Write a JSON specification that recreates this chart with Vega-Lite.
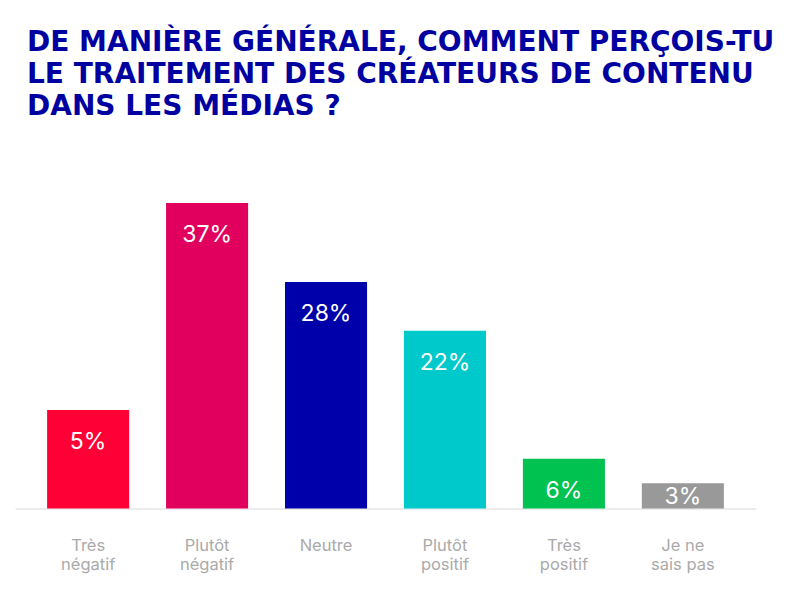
{
  "$schema": "https://vega.github.io/schema/vega-lite/v6.json",
  "width": 741,
  "height": 358,
  "autosize": {"type": "none"},
  "padding": {"left": 15, "top": 150.5, "right": 48, "bottom": 87.5},
  "background": "white",
  "title": {
    "text": ["DE MANIÈRE GÉNÉRALE, COMMENT PERÇOIS-TU", "LE TRAITEMENT DES CRÉATEURS DE CONTENU", "DANS LES MÉDIAS ?"],
    "anchor": "start",
    "dx": 12,
    "offset": 30,
    "font": "DejaVu Sans",
    "fontSize": 28,
    "fontWeight": "bold",
    "color": "#0000a0",
    "lineHeight": 32
  },
  "data": {
    "values": [
      {"reponse": "Très négatif", "pct": 12.1, "label": "5%"},
      {"reponse": "Plutôt négatif", "pct": 37.5, "label": "37%"},
      {"reponse": "Neutre", "pct": 27.8, "label": "28%"},
      {"reponse": "Plutôt positif", "pct": 21.8, "label": "22%"},
      {"reponse": "Très positif", "pct": 6.1, "label": "6%"},
      {"reponse": "Je ne sais pas", "pct": 3.1, "label": "3%"}
    ]
  },
  "encoding": {
    "x": {
      "field": "reponse",
      "type": "nominal",
      "sort": null,
      "scale": {"paddingInner": 0.31, "paddingOuter": 0.27},
      "axis": {
        "title": null,
        "domainColor": "#e6e6e6",
        "domainWidth": 1.5,
        "ticks": false,
        "labelAngle": 0,
        "labelFont": "Inter",
        "labelFontSize": 16.5,
        "labelColor": "#aaaaaa",
        "labelPadding": 29,
        "labelLineHeight": 19,
        "labelExpr": "datum.value == 'Je ne sais pas' ? ['Je ne', 'sais pas'] : split(datum.value, ' ')"
      }
    },
    "y": {
      "field": "pct",
      "type": "quantitative",
      "scale": {"domain": [0, 43.93], "nice": false},
      "axis": null
    }
  },
  "layer": [
    {
      "mark": {"type": "bar"},
      "encoding": {
        "color": {
          "field": "reponse",
          "type": "nominal",
          "scale": {
            "domain": ["Très négatif", "Plutôt négatif", "Neutre", "Plutôt positif", "Très positif", "Je ne sais pas"],
            "range": ["#ff0036", "#e1005e", "#0000aa", "#00c9cc", "#00c250", "#999999"]
          },
          "legend": null
        }
      }
    },
    {
      "transform": [{"filter": "datum.pct >= 5"}],
      "mark": {"type": "text", "baseline": "alphabetic", "dy": 39, "color": "white", "font": "Inter", "fontSize": 23},
      "encoding": {"text": {"field": "label"}}
    },
    {
      "transform": [{"filter": "datum.pct < 5"}],
      "mark": {"type": "text", "baseline": "alphabetic", "dy": 21, "color": "white", "font": "Inter", "fontSize": 23},
      "encoding": {"text": {"field": "label"}}
    }
  ],
  "config": {"view": {"stroke": null}}
}
